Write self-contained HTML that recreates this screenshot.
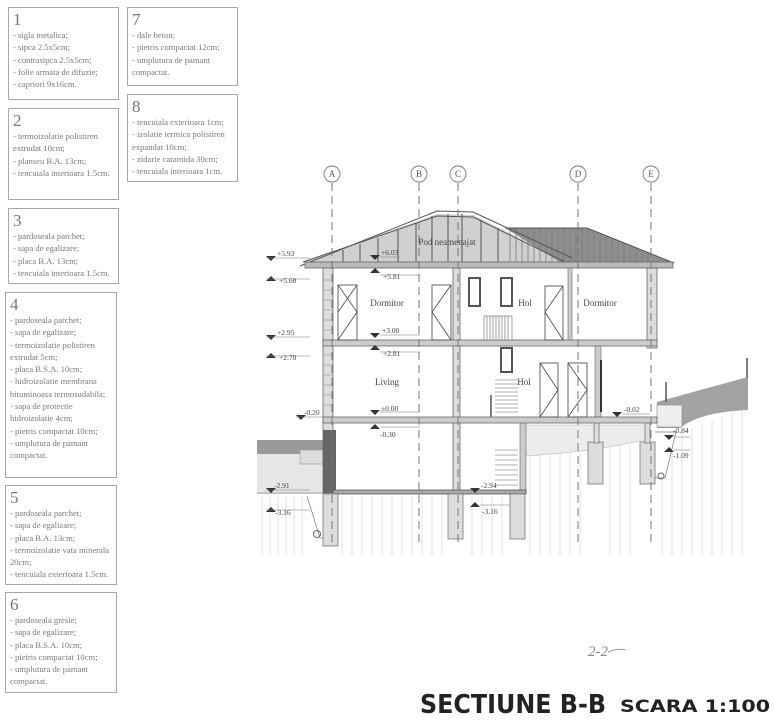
<!DOCTYPE html>
<html><head><meta charset="utf-8"><style>
html,body{margin:0;padding:0;background:#fff;}
body{width:774px;height:720px;position:relative;overflow:hidden;font-family:"Liberation Sans",sans-serif;}
.b{position:absolute;border:1px solid #a8a8a8;box-sizing:border-box;padding:2px 4px;color:#7a7a7a;font-family:"Liberation Serif",serif;font-size:8.6px;line-height:12.3px;}
.b .n{font-size:17px;line-height:19px;color:#777;}
</style></head><body>
<div class="b" style="left:8px;top:7px;width:111px;height:93px"><div class="n">1</div>- sigla metalica;<br>- sipca 2.5x5cm;<br>- contrasipca 2.5x5cm;<br>- folie armata de difuzie;<br>- capriori 9x16cm.</div>
<div class="b" style="left:127px;top:7px;width:111px;height:79px"><div class="n">7</div>- dale beton;<br>- pietris compactat 12cm;<br>- umplutura de pamant compactat.</div>
<div class="b" style="left:8px;top:108px;width:111px;height:92px"><div class="n">2</div>- termoizolatie polistiren extrudat 10cm;<br>- planseu B.A. 13cm;<br>- tencuiala interioara 1.5cm.</div>
<div class="b" style="left:127px;top:94px;width:111px;height:88px"><div class="n">8</div>- tencuiala exterioara 1cm;<br>- izolatie termica polistiren expandat 10cm;<br>- zidarie caramida 30cm;<br>- tencuiala interioara 1cm.</div>
<div class="b" style="left:8px;top:208px;width:111px;height:76px"><div class="n">3</div>- pardoseala parchet;<br>- sapa de egalizare;<br>- placa B.A. 13cm;<br>- tencuiala interioara 1.5cm.</div>
<div class="b" style="left:5px;top:292px;width:112px;height:186px"><div class="n">4</div>- pardoseala parchet;<br>- sapa de egalizare;<br>- termoizolatie polistiren extrudat 5cm;<br>- placa B.S.A. 10cm;<br>- hidroizolatie membrana bituminoasa termosudabila;<br>- sapa de protectie hidroizolatie 4cm;<br>- pietris compactat 10cm;<br>- umplutura de pamant compactat.</div>
<div class="b" style="left:5px;top:485px;width:112px;height:100px"><div class="n">5</div>- pardoseala parchet;<br>- sapa de egalizare;<br>- placa B.A. 13cm;<br>- termoizolatie vata minerala 20cm;<br>- tencuiala exterioara 1.5cm.</div>
<div class="b" style="left:5px;top:592px;width:112px;height:101px"><div class="n">6</div>- pardoseala gresie;<br>- sapa de egalizare;<br>- placa B.S.A. 10cm;<br>- pietris compactat 10cm;<br>- umplutura de pamant compactat.</div>

<svg width="774" height="720" style="position:absolute;left:0;top:0" font-family="Liberation Serif,serif">
<g stroke="#d4d4d4" stroke-width="0.7">
<path d="M262 496V555M270 496V555M278 496V555M286 496V555M294 496V555M302 496V555M342 496V555M352 496V555M362 496V555M372 496V555M382 496V555M392 496V555M402 496V555M412 496V555M422 496V555M432 496V555M442 496V555M472 496V555M482 496V555M492 496V555M502 496V555M530 455V555M540 452V555M550 450V555M560 448V555M570 447V555M580 446V555M610 446V555M620 445V555M630 445V555M662 440V555M672 436V555M682 432V555M692 428V555M702 424V555M712 420V555M722 416V555M732 413V555M742 410V555"/>
</g>
<path d="M525 425 L645 425 L645 440 Q590 452 525 456Z" fill="#ececec" stroke="#bbb" stroke-width="0.6"/>
<rect x="257" y="440" width="66" height="14" fill="#9a9a9a"/>
<rect x="257" y="454" width="66" height="38" fill="#e6e6e6"/>
<rect x="300" y="450" width="23" height="14" fill="#ddd" stroke="#999" stroke-width="0.6"/>
<line x1="257" y1="493" x2="330" y2="493" stroke="#888"/>
<path d="M307 496 L320 538 L330 538 L330 496" fill="none" stroke="#888" stroke-width="0.8"/>
<circle cx="317" cy="534" r="3.5" fill="none" stroke="#666"/>
<path d="M657 402 Q700 390 748 377 L748 410 Q700 412 680 428 L657 428Z" fill="#a3a3a3"/>
<rect x="657" y="405" width="25" height="22" fill="#eee" stroke="#888" stroke-width="0.6"/>
<path d="M655 432 L676 432 L665 478 L655 478" fill="#fff" stroke="#777" stroke-width="0.7"/>
<circle cx="661" cy="476" r="3" fill="none" stroke="#666"/>
<line x1="747" y1="358" x2="747" y2="378" stroke="#555" stroke-width="1.5"/>
<line x1="666" y1="382" x2="666" y2="402" stroke="#555" stroke-width="1.5"/>
<polygon points="305,262 437,214 473,215 568,262" fill="#d0d0d0"/>
<polygon points="505,228 587,228 672,262 560,262" fill="#8e8e8e"/>
<g stroke="#7a7a7a" stroke-width="0.8">
<path d="M510 228V262M516 228V262M522 228V262M528 228V262M534 228V262M540 228V262M546 228V262M552 228V262M558 228V262M564 228V262M570 228V262M576 228V262M582 228V262M588 230V262M594 232V262M600 235V262M606 237V262M612 239V262M618 241V262M624 243V262M630 246V262M636 248V262M642 250V262M648 252V262"/>
</g>
<g stroke="#555" stroke-width="1" fill="none">
<path d="M300 266 L437 211 L473 212 L572 258"/>
<path d="M303 262 L437 216 L473 217 L565 262"/>
<path d="M505 228 L587 228 L674 263"/>
<path d="M343 250V262M360 244V262M378 238V262M398 230V262M416 223V262M432 216V262M448 214V262M462 214V262M481 220V262M498 228V262"/>
</g>
<rect x="305" y="262" width="368" height="6" fill="#bbb" stroke="#666" stroke-width="0.8"/>
<rect x="323" y="268" width="10" height="225" fill="#ddd" stroke="#666" stroke-width="0.8"/>
<rect x="323" y="430" width="13" height="63" fill="#666"/>
<rect x="647" y="268" width="10" height="80" fill="#ddd" stroke="#666" stroke-width="0.8"/>
<rect x="453" y="268" width="7" height="225" fill="#ddd" stroke="#666" stroke-width="0.8"/>
<rect x="568" y="268" width="4" height="72" fill="#ccc" stroke="#666" stroke-width="0.6"/>
<rect x="595" y="345" width="6" height="72" fill="#ccc" stroke="#666" stroke-width="0.6"/>
<rect x="520" y="422" width="6" height="71" fill="#ccc" stroke="#666" stroke-width="0.6"/>
<line x1="491" y1="395" x2="491" y2="418" stroke="#555" stroke-width="1.5"/>
<line x1="601" y1="360" x2="601" y2="412" stroke="#333" stroke-width="2"/>
<rect x="323" y="340" width="334" height="6" fill="#ccc" stroke="#666" stroke-width="0.8"/>
<rect x="323" y="417" width="334" height="6" fill="#ccc" stroke="#666" stroke-width="0.8"/>
<rect x="333" y="490" width="193" height="4" fill="#aaa" stroke="#555" stroke-width="0.8"/>
<g fill="#ddd" stroke="#777" stroke-width="0.8">
<rect x="323" y="494" width="15" height="52"/><rect x="448" y="494" width="15" height="45"/><rect x="510" y="494" width="15" height="45"/>
<rect x="588" y="442" width="15" height="42"/><rect x="640" y="442" width="15" height="42"/>
<rect x="594" y="423" width="5" height="20"/><rect x="645" y="423" width="5" height="20"/>
</g>
<g stroke="#666" stroke-width="0.6" fill="none">
<rect x="484" y="316" width="28" height="24" fill="#fff"/>
<path d="M487 316V340M490 316V340M493 316V340M496 316V340M499 316V340M502 316V340M505 316V340M508 316V340"/>
<path d="M495 380H518M495 384H518M495 388H518M495 392H518M495 396H518M495 400H518M495 404H518M495 408H518M495 412H518"/>
<path d="M495 450H518M495 455H518M495 460H518M495 465H518M495 470H518M495 475H518M495 480H518M495 485H518"/>
</g>
<g stroke="#555" stroke-width="0.9" fill="none">
<rect x="338" y="285" width="19" height="55"/><path d="M338 285L357 312L338 340M357 285L338 312"/>
<rect x="432" y="285" width="19" height="55"/><path d="M451 285L432 312L451 340"/>
<rect x="469" y="278" width="11" height="28" stroke-width="2"/><rect x="501" y="278" width="11" height="28" stroke-width="2"/>
<rect x="501" y="348" width="11" height="24" stroke-width="2"/>
<rect x="545" y="286" width="18" height="54"/><path d="M563 286L545 312L563 340"/>
<rect x="540" y="363" width="18" height="54"/><path d="M540 363L558 390L540 417"/>
<rect x="568" y="363" width="19" height="54"/><path d="M568 363L587 390L568 417"/>
</g>
<g stroke="#888" stroke-width="0.5"><path d="M324 280H332M324 290H332M324 300H332M324 310H332M324 320H332M324 330H332M324 355H332M324 365H332M324 375H332M324 385H332M324 395H332M324 405H332"/></g>
<g stroke="#777" stroke-width="1" fill="none" stroke-dasharray="8,5">
<path d="M332 183V545M419 183V545M458 183V545M578 183V545M651 183V545"/>
</g>
<g stroke="#777" fill="#fff" stroke-width="0.9">
<circle cx="332" cy="174" r="8"/><circle cx="419" cy="174" r="8"/><circle cx="458" cy="174" r="8"/><circle cx="578" cy="174" r="8"/><circle cx="651" cy="174" r="8"/>
</g>
<g font-size="9" fill="#555" text-anchor="middle">
<text x="332" y="177">A</text><text x="419" y="177">B</text><text x="458" y="177">C</text><text x="578" y="177">D</text><text x="651" y="177">E</text>
</g>
<g font-size="9" fill="#444" text-anchor="middle">
<text x="387" y="306">Dormitor</text><text x="525" y="306">Hol</text><text x="600" y="306">Dormitor</text>
<text x="387" y="385">Living</text><text x="524" y="385">Hol</text><text x="447" y="245">Pod neamenajat</text>
</g>
<g fill="#333">
<path d="M266 256h10l-5 5z"/><path d="M266 281h10l-5-5z"/><path d="M266 335h10l-5 5z"/><path d="M266 358h10l-5-5z"/>
<path d="M296 415h10l-5 5z"/><path d="M266 488h10l-5 5z"/><path d="M266 512h10l-5-5z"/>
<path d="M370 255h10l-5 5z"/><path d="M370 273h10l-5-5z"/><path d="M370 333h10l-5 5z"/><path d="M370 350h10l-5-5z"/><path d="M370 410h10l-5 5z"/><path d="M370 429h10l-5-5z"/>
<path d="M470 488h10l-5 5z"/><path d="M470 507h10l-5-5z"/><path d="M612 412h10l-5 5z"/><path d="M664 435h10l-5 5z"/><path d="M664 452h10l-5-5z"/>
</g>
<g stroke="#777" stroke-width="0.6">
<path d="M266 258H310M266 279H310M266 337H310M266 356H310M296 417H323M266 490H310M266 510H310M380 257H400M380 275H420M380 335H420M380 352H420M380 412H420M380 427H420M480 490H510M480 505H510M622 414H650M674 437H690M674 450H690"/>
</g>
<g font-size="7.5" fill="#444">
<text x="277" y="256">+5.93</text><text x="279" y="283">+5.68</text><text x="277" y="335">+2.95</text><text x="279" y="360">+2.70</text>
<text x="304" y="415">-0.20</text><text x="274" y="488">-2.91</text><text x="275" y="515">-3.16</text>
<text x="381" y="255">+6.03</text><text x="383" y="279">+5.81</text><text x="382" y="333">+3.00</text><text x="383" y="356">+2.81</text><text x="381" y="411">±0.00</text><text x="380" y="437">-0.30</text>
<text x="481" y="488">-2.94</text><text x="482" y="514">-3.16</text><text x="624" y="412">-0.02</text><text x="673" y="433">-0.84</text><text x="673" y="458">-1.09</text>
</g>
<text x="588" y="656" font-size="15" fill="#888" font-family="Liberation Serif,serif" font-style="italic">2-2</text>
<path d="M608 652 Q617 648 626 650" stroke="#999" fill="none"/>
<text x="420" y="713" font-family="DejaVu Sans,sans-serif" font-weight="bold" font-size="26" fill="#222" textLength="186" lengthAdjust="spacingAndGlyphs">SECTIUNE B-B</text>
<text x="620" y="712" font-family="DejaVu Sans,sans-serif" font-weight="bold" font-size="17" fill="#222" textLength="150" lengthAdjust="spacingAndGlyphs">SCARA 1:100</text>
</svg>
</body></html>
